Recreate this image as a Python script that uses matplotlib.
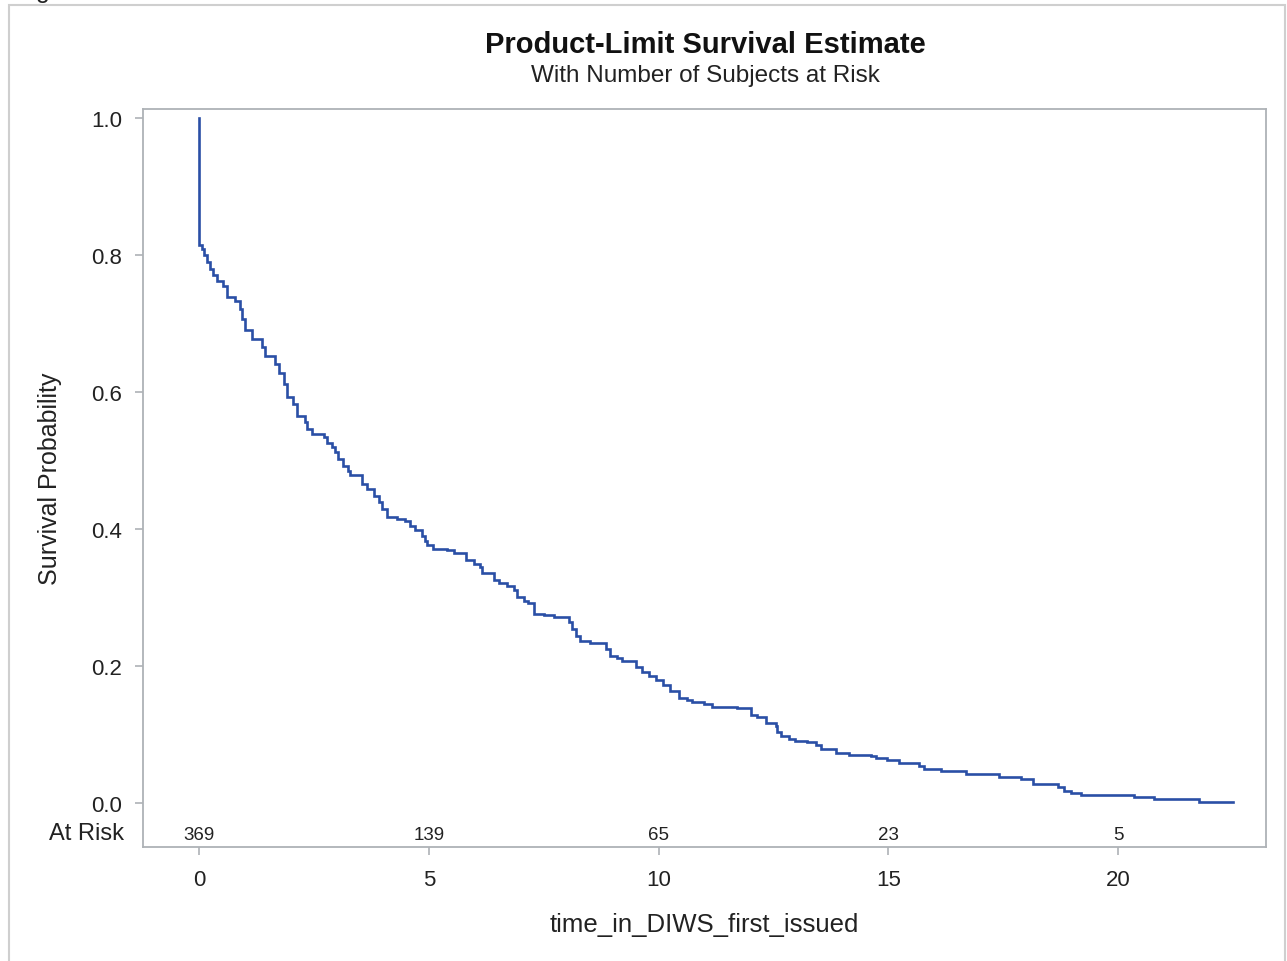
import matplotlib
matplotlib.use("Agg")
import matplotlib.pyplot as plt
from matplotlib.patches import Rectangle

plt.rcParams['font.family'] = ['Liberation Sans', 'DejaVu Sans']

# ---- data ----
times = [0.00, 0.00, 0.06, 0.11, 0.17, 0.24, 0.31, 0.39, 0.53, 0.60, 0.78, 0.89, 0.93,
         1.00, 1.15, 1.37, 1.44, 1.66, 1.73, 1.84, 1.91, 2.05, 2.13, 2.31, 2.35, 2.46,
         2.71, 2.78, 2.89, 2.96, 3.03, 3.14, 3.25, 3.29, 3.54, 3.65, 3.80, 3.91, 3.98,
         4.09, 4.31, 4.49, 4.60, 4.71, 4.85, 4.92, 4.96, 5.10, 5.40, 5.54, 5.80, 5.98,
         6.12, 6.16, 6.41, 6.52, 6.70, 6.85, 6.92, 7.07, 7.17, 7.28, 7.50, 7.72, 8.05,
         8.12, 8.20, 8.30, 8.50, 8.77, 8.85, 8.95, 9.10, 9.21, 9.50, 9.65, 9.80, 9.95,
         10.10, 10.26, 10.44, 10.63, 10.73, 10.99, 11.17, 11.71, 12.02, 12.15, 12.33,
         12.55, 12.58, 12.66, 12.84, 12.98, 13.24, 13.42, 13.53, 13.86, 14.15, 14.62,
         14.73, 14.98, 15.24, 15.67, 15.78, 16.14, 16.69, 17.40, 17.89, 18.14, 18.69,
         18.83, 18.98, 19.19, 20.35, 20.79, 21.77, 22.51]
surv = [1.000, 0.814, 0.808, 0.800, 0.790, 0.780, 0.770, 0.762, 0.755, 0.738, 0.733, 0.721, 0.707,
        0.690, 0.677, 0.665, 0.653, 0.641, 0.628, 0.612, 0.592, 0.582, 0.565, 0.556, 0.546, 0.539,
        0.534, 0.526, 0.519, 0.512, 0.502, 0.492, 0.485, 0.479, 0.466, 0.458, 0.448, 0.439, 0.429,
        0.418, 0.415, 0.412, 0.405, 0.398, 0.390, 0.383, 0.377, 0.371, 0.369, 0.365, 0.354, 0.349,
        0.344, 0.336, 0.325, 0.321, 0.317, 0.311, 0.300, 0.295, 0.292, 0.276, 0.274, 0.271, 0.264,
        0.254, 0.244, 0.237, 0.234, 0.233, 0.225, 0.215, 0.211, 0.207, 0.198, 0.191, 0.186, 0.179,
        0.172, 0.163, 0.154, 0.151, 0.148, 0.145, 0.140, 0.138, 0.128, 0.125, 0.117,
        0.113, 0.103, 0.098, 0.094, 0.091, 0.089, 0.084, 0.079, 0.073, 0.070, 0.068,
        0.065, 0.063, 0.058, 0.054, 0.050, 0.047, 0.043, 0.038, 0.035, 0.028, 0.023,
        0.018, 0.014, 0.011, 0.009, 0.006, 0.002, 0.002]

risk_times = [0, 5, 10, 15, 20]
risk_counts = [369, 139, 65, 23, 5]
x_ticks = [0, 5, 10, 15, 20]
y_ticks = [0.0, 0.2, 0.4, 0.6, 0.8, 1.0]
y_tick_labels = ["0.0", "0.2", "0.4", "0.6", "0.8", "1.0"]

title = "Product-Limit Survival Estimate"
subtitle = "With Number of Subjects at Risk"
xlabel = "time_in_DIWS_first_issued"
ylabel = "Survival Probability"

# ---- figure ----
W, H = 1287, 962
fig = plt.figure(figsize=(W / 100, H / 100), dpi=100)
fig.patch.set_facecolor("white")

# outer border
fig.patches.append(Rectangle((9 / W, -0.05), (1285 - 9) / W, 1.05 - 6 / H,
                             transform=fig.transFigure, fill=False,
                             edgecolor="#CFCFCF", linewidth=1.5))
# cut-off caption fragment at the very top (only its descender shows)
fig.text(36 / W, 1 + 2 / H, "g", fontsize=18, color="#222222",
         ha="left", va="baseline")

ax_l, ax_r, ax_t, ax_b = 143, 1266, 110, 848
ax = fig.add_axes([ax_l / W, 1 - ax_b / H, (ax_r - ax_l) / W, (ax_b - ax_t) / H])

ax.plot(times, surv, drawstyle="steps-post", color="#2A4FA6", linewidth=1.9,
        solid_joinstyle="miter")

ax.set_xlim(-1.219, 23.22)
ax.set_ylim(-0.0642, 1.013)

frame_col = "#AEB2B6"
for s in ax.spines.values():
    s.set_color(frame_col)
    s.set_linewidth(1.3)

ax.set_xticks(x_ticks)
ax.set_xticklabels([str(v) for v in x_ticks])
ax.set_yticks(y_ticks)
ax.set_yticklabels(y_tick_labels)
ax.tick_params(axis="both", direction="out", length=6, width=1.2, color=frame_col,
               labelsize=16, labelcolor="#222222")
ax.tick_params(axis="y", pad=9)
ax.tick_params(axis="x", pad=10)

# at risk row
for t, n in zip(risk_times, risk_counts):
    ax.text(t, -0.0455, str(n), ha="center", va="center", fontsize=13.5, color="#222222")
ax.text(-0.0165, -0.0435, "At Risk", transform=ax.get_yaxis_transform(),
        ha="right", va="center", fontsize=17, color="#222222")

ax.set_xlabel(xlabel, fontsize=18.5, color="#222222", labelpad=16)
ax.set_ylabel(ylabel, fontsize=18, color="#222222", labelpad=21)

fig.text(705 / W, 1 - 45 / H, title, ha="center", va="center", fontsize=21,
         fontweight="bold", color="#111111")
fig.text(705 / W, 1 - 76 / H, subtitle, ha="center", va="center", fontsize=17.5,
         color="#222222")

fig.savefig("out.png", dpi=100)
